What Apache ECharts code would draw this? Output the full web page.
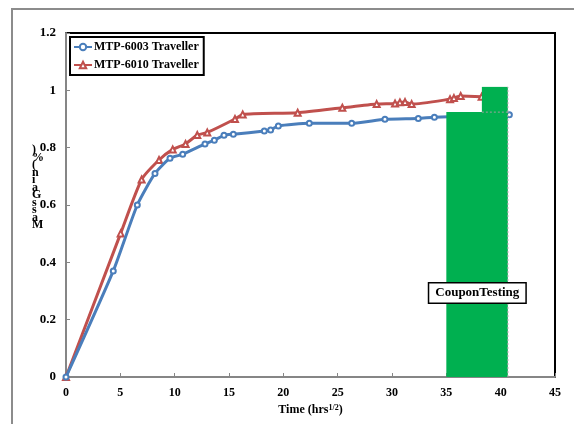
<!DOCTYPE html>
<html>
<head>
<meta charset="utf-8">
<script src="https://cdn.jsdelivr.net/npm/echarts@6/dist/echarts.min.js"></script>
<style>
html,body{margin:0;padding:0;background:#fff;}
#c{width:574px;height:424px;}
</style>
</head>
<body>
<div id="c"></div>
<script>
// ---- data ----
var blueName = 'MTP-6003 Traveller';
var redName = 'MTP-6010 Traveller';
var blueX = [0, 4.35, 6.56, 8.19, 9.57, 10.74, 12.79, 13.65, 14.54, 15.4, 18.25, 18.83, 19.54, 22.39, 26.29, 29.35, 32.42, 33.9, 40.8];
var blueY = [0, 0.37, 0.60, 0.71, 0.763, 0.777, 0.813, 0.826, 0.843, 0.847, 0.858, 0.862, 0.876, 0.885, 0.885, 0.899, 0.902, 0.906, 0.915];
var redX = [0, 5.03, 6.96, 8.56, 9.82, 11.0, 12.08, 13.0, 15.55, 16.26, 21.32, 25.43, 28.59, 30.28, 30.73, 31.2, 31.81, 35.34, 35.7, 36.32, 38.25];
var redY = [0, 0.501, 0.689, 0.757, 0.794, 0.813, 0.844, 0.853, 0.900, 0.916, 0.922, 0.939, 0.952, 0.954, 0.958, 0.959, 0.952, 0.969, 0.973, 0.980, 0.978];
// coupon testing blocks: [xStart, xEnd, yBottom, yTop]
var couponBlocks = [
  [35, 40.66, 0, 0.924],
  [38.27, 40.66, 0.924, 1.012]
];
var couponLabel = 'CouponTesting';
var couponLabelPos = [37.85, 0.293];
var xTicks = {min: 0, max: 45, interval: 5};
var yTicks = {min: 0, max: 1.2, interval: 0.2};
var yTitleChars = [')', '%', '(', 'n', 'i', 'a', 'G', 's', 's', 'a', 'M'];

function pairs(xs, ys){ return xs.map(function(x,i){ return [x, ys[i]]; }); }

var FONT = "'Liberation Serif','Times New Roman',serif";
var chart = echarts.init(document.getElementById('c'));
chart.setOption({
  animation: false,
  backgroundColor: '#fff',
  grid: {left: 66, right: 19, top: 33, bottom: 47, show: true, borderColor: '#000', borderWidth: 2, backgroundColor: 'transparent'},
  legend: {
    orient: 'vertical', left: 70, top: 37, padding: [4, 5, 4, 3],
    backgroundColor: '#fff', borderColor: '#000', borderWidth: 2,
    itemWidth: 18, itemHeight: 8, itemGap: 6,
    textStyle: {fontFamily: FONT, fontWeight: 'bold', fontSize: 12, color: '#000', padding: [0,0,0,-3]},
    data: [blueName, redName]
  },
  xAxis: {
    type: 'value', min: xTicks.min, max: xTicks.max, interval: xTicks.interval,
    splitLine: {show: false},
    axisLine: {lineStyle: {color: '#868686', width: 2}},
    axisTick: {inside: true, length: 4, lineStyle: {color: '#868686'}},
    axisLabel: {fontFamily: FONT, fontWeight: 'bold', fontSize: 12, color: '#000', margin: 10},
    name: '{a|Time (hrs}{s|1/2}{a|)}', nameLocation: 'middle', nameGap: 24,
    nameTextStyle: {rich: {
      a: {fontFamily: FONT, fontWeight: 'bold', fontSize: 12, color: '#000'},
      s: {fontFamily: FONT, fontWeight: 'bold', fontSize: 8, color: '#000', verticalAlign: 'top', padding: [0,0,5,0]}
    }}
  },
  yAxis: {
    type: 'value', min: yTicks.min, max: yTicks.max, interval: yTicks.interval,
    splitLine: {show: false},
    axisLine: {show: true, lineStyle: {color: '#868686', width: 2}},
    axisTick: {show: true, inside: true, length: 4, lineStyle: {color: '#868686'}},
    axisLabel: {fontFamily: FONT, fontWeight: 'bold', fontSize: 13, color: '#000', margin: 10}
  },
  graphic: [
    {type: 'rect', shape: {x: 12, y: 9, width: 600, height: 460}, style: {fill: 'none', stroke: '#8c8c8c', lineWidth: 2}, z: -1},
    {type: 'text', left: 32, top: 144, style: {text: yTitleChars.join('\n'), fontFamily: FONT, fontWeight: 'bold', fontSize: 12, lineHeight: 7.5, fill: '#000', align: 'center'}}
  ],
  series: [
    {
      name: blueName, type: 'line', data: pairs(blueX, blueY), smooth: 0.2, z: 3,
      symbol: 'emptyCircle', symbolSize: 5,
      lineStyle: {color: '#4a7ebb', width: 3},
      itemStyle: {color: '#4a7ebb', borderWidth: 1.5}
    },
    {
      name: redName, type: 'line', data: pairs(redX, redY), smooth: 0.2, z: 2,
      symbol: 'emptyTriangle', symbolSize: 6,
      lineStyle: {color: '#c0504d', width: 3},
      itemStyle: {color: '#c0504d', borderWidth: 1.5}
    },
    {
      name: 'coupon', type: 'custom', z: 10, silent: true,
      data: couponBlocks,
      encode: {x: [0, 1], y: [2, 3]},
      renderItem: function(params, api){
        var p0 = api.coord([api.value(0), api.value(2)]);
        var p1 = api.coord([api.value(1), api.value(3)]);
        var children = [
          {type: 'rect', shape: {x: p0[0], y: p1[1], width: p1[0]-p0[0], height: p0[1]-p1[1]}, style: {fill: '#00b050'}},
          {type: 'line', shape: {x1: p1[0], y1: p0[1], x2: p1[0], y2: p1[1]}, style: {stroke: '#a0a0a0', lineWidth: 1, lineDash: [2,2]}},
          {type: 'line', shape: {x1: p0[0], y1: p0[1], x2: p1[0], y2: p0[1]}, style: {stroke: params.dataIndex > 0 ? '#a0a0a0' : 'none', lineWidth: 1, lineDash: [2,2]}}
        ];
        if (params.dataIndex === couponBlocks.length - 1) {
          var lp = api.coord(couponLabelPos);
          children.push({type: 'text', x: lp[0], y: lp[1], z2: 100,
            style: {text: couponLabel, fontFamily: FONT, fontWeight: 'bold', fontSize: 13, fill: '#000',
              align: 'center', verticalAlign: 'middle',
              backgroundColor: '#fff', borderColor: '#000', borderWidth: 1.5, padding: [3, 6, 3, 6]}});
        }
        return {type: 'group', children: children};
      }
    }
  ]
});
</script>
</body>
</html>
